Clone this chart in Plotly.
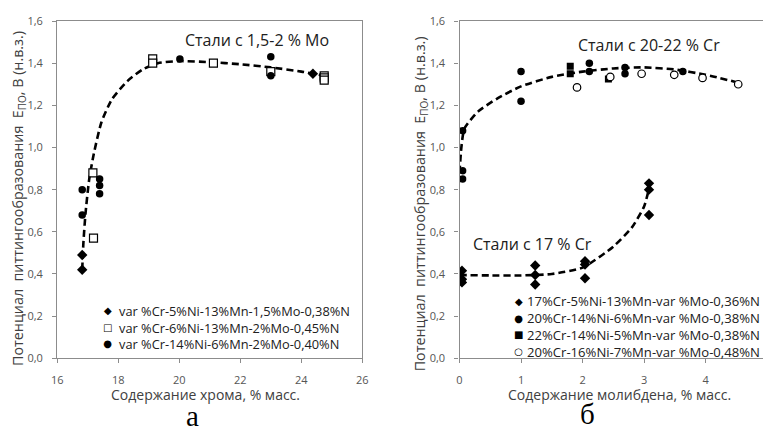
import plotly.graph_objects as go

# ---- Panel (a): pitting potential vs. chromium content, steels with 1.5-2 % Mo ----
cr_s1_x = [16.82, 16.82, 24.38]
cr_s1_y = [0.42, 0.49, 1.35]
cr_s2_x = [17.17, 17.19, 19.13, 19.13, 21.12, 23.0, 24.75, 24.75, 24.75]
cr_s2_y = [0.88, 0.57, 1.42, 1.40, 1.40, 1.36, 1.34, 1.33, 1.32]
cr_s3_x = [16.82, 16.82, 17.39, 17.39, 17.39, 20.02, 23.0, 23.0]
cr_s3_y = [0.80, 0.68, 0.85, 0.82, 0.78, 1.42, 1.43, 1.34]
cr_trend_x = [16.82, 16.86, 16.93, 17.05, 17.2, 17.45, 17.8, 18.3, 18.8, 19.3, 20.0, 21.0, 22.0, 23.0, 24.0, 24.75]
cr_trend_y = [0.42, 0.55, 0.69, 0.85, 0.97, 1.12, 1.23, 1.315, 1.37, 1.40, 1.41, 1.405, 1.395, 1.38, 1.36, 1.34]

# ---- Panel (б): pitting potential vs. molybdenum content ----
mo_s1_x = [0.04, 0.04, 0.04, 1.23, 1.23, 1.23, 2.04, 2.04, 2.04, 3.08, 3.08, 3.08]
mo_s1_y = [0.415, 0.375, 0.36, 0.44, 0.395, 0.35, 0.46, 0.445, 0.38, 0.83, 0.80, 0.68]
mo_s2_x = [0.05, 0.05, 0.05, 1.0, 1.0, 2.11, 2.11, 2.69, 2.69, 3.63]
mo_s2_y = [0.89, 0.85, 1.08, 1.36, 1.22, 1.40, 1.36, 1.38, 1.35, 1.36]
mo_s3_x = [1.80, 1.80, 2.42]
mo_s3_y = [1.385, 1.35, 1.325]
mo_s4_x = [1.91, 2.45, 2.96, 3.49, 3.95, 4.53]
mo_s4_y = [1.285, 1.335, 1.35, 1.345, 1.33, 1.30]
mo_trend17_x = [0.0, 0.5, 1.0, 1.5, 2.0, 2.5, 2.8, 3.0, 3.1]
mo_trend17_y = [0.395, 0.393, 0.393, 0.40, 0.43, 0.53, 0.62, 0.72, 0.83]
mo_trend20_x = [0.0, 0.03, 0.08, 0.3, 0.6, 1.0, 1.5, 2.0, 2.5, 3.0, 3.5, 4.0, 4.5]
mo_trend20_y = [0.88, 1.0, 1.09, 1.17, 1.23, 1.29, 1.335, 1.36, 1.375, 1.38, 1.37, 1.345, 1.31]

legend_a = ["var %Cr-5%Ni-13%Mn-1,5%Mo-0,38%N",
            "var %Cr-6%Ni-13%Mn-2%Mo-0,45%N",
            "var %Cr-14%Ni-6%Mn-2%Mo-0,40%N"]
legend_b = ["17%Cr-5%Ni-13%Mn-var %Mo-0,36%N",
            "20%Cr-14%Ni-6%Mn-var %Mo-0,38%N",
            "22%Cr-14%Ni-5%Mn-var %Mo-0,38%N",
            "20%Cr-16%Ni-7%Mn-var %Mo-0,48%N"]
# legend key glyphs, one per series
glyphs_a = ["◆", "□", "●"]
glyphs_b = ["◆", "●", "■", "○"]

FONT = "Open Sans"
AX_COLOR = "#8c8c8c"
TXT_COLOR = "#404040"

fig = go.Figure()

dash_line = dict(color="black", width=2.6, dash="7px,4px", shape="spline", smoothing=0.6)

# trend lines first so markers sit on top
fig.add_trace(go.Scatter(x=cr_trend_x, y=cr_trend_y, mode="lines", line=dash_line,
                         xaxis="x", yaxis="y", hoverinfo="skip"))
fig.add_trace(go.Scatter(x=mo_trend17_x, y=mo_trend17_y, mode="lines", line=dash_line,
                         xaxis="x2", yaxis="y2", hoverinfo="skip"))
fig.add_trace(go.Scatter(x=mo_trend20_x, y=mo_trend20_y, mode="lines", line=dash_line,
                         xaxis="x2", yaxis="y2", hoverinfo="skip"))

# panel (a) markers
fig.add_trace(go.Scatter(x=cr_s1_x, y=cr_s1_y, mode="markers", name=legend_a[0],
                         marker=dict(symbol="diamond", size=8, color="black"),
                         xaxis="x", yaxis="y"))
fig.add_trace(go.Scatter(x=cr_s2_x, y=cr_s2_y, mode="markers", name=legend_a[1],
                         marker=dict(symbol="square", size=8, color="white",
                                     line=dict(color="black", width=1.2)),
                         xaxis="x", yaxis="y"))
fig.add_trace(go.Scatter(x=cr_s3_x, y=cr_s3_y, mode="markers", name=legend_a[2],
                         marker=dict(symbol="circle", size=7.5, color="black"),
                         xaxis="x", yaxis="y"))

# panel (б) markers
fig.add_trace(go.Scatter(x=mo_s1_x, y=mo_s1_y, mode="markers", name=legend_b[0],
                         marker=dict(symbol="diamond", size=8, color="black"),
                         xaxis="x2", yaxis="y2"))
fig.add_trace(go.Scatter(x=mo_s2_x, y=mo_s2_y, mode="markers", name=legend_b[1],
                         marker=dict(symbol="circle", size=7.5, color="black"),
                         xaxis="x2", yaxis="y2"))
fig.add_trace(go.Scatter(x=mo_s3_x, y=mo_s3_y, mode="markers", name=legend_b[2],
                         marker=dict(symbol="square", size=7, color="black"),
                         xaxis="x2", yaxis="y2"))
fig.add_trace(go.Scatter(x=mo_s4_x, y=mo_s4_y, mode="markers", name=legend_b[3],
                         marker=dict(symbol="circle", size=7.5, color="white",
                                     line=dict(color="black", width=1.2)),
                         xaxis="x2", yaxis="y2"))

W, H = 769, 428
def px_x(p):
    return p / W
def px_y(p):
    return 1 - p / H

yticks = [0.0, 0.2, 0.4, 0.6, 0.8, 1.0, 1.2, 1.4, 1.6]
ytext = [f"{v:.1f}".replace(".", ",") for v in yticks]

axis_common = dict(showgrid=False, zeroline=False, linecolor=AX_COLOR, linewidth=1.3,
                   ticks="outside", ticklen=4, tickcolor=AX_COLOR,
                   tickfont=dict(family=FONT, size=11, color="#555555"))

ydom = [px_y(363), px_y(13.5)]

fig.update_layout(
    width=W, height=H,
    margin=dict(l=0, r=0, t=0, b=0),
    paper_bgcolor="white", plot_bgcolor="white",
    showlegend=False,
    font=dict(family=FONT, color=TXT_COLOR),
    xaxis=dict(domain=[px_x(52), px_x(362)], range=[16, 26], tickvals=[16, 18, 20, 22, 24, 26],
               mirror=True, anchor="y", ticklabelstandoff=7, **axis_common),
    yaxis=dict(domain=ydom, range=[0, 1.6], tickvals=yticks, ticktext=ytext,
               mirror=True, anchor="x", ticklabelstandoff=7, **axis_common),
    xaxis2=dict(domain=[px_x(460.7), 1.0], range=[0, (769 - 460.7) / 62.5], tickvals=[0, 1, 2, 3, 4],
                mirror=True, anchor="y2", ticklabelstandoff=7, **axis_common),
    yaxis2=dict(domain=ydom, range=[0, 1.6], tickvals=yticks, ticktext=ytext,
                anchor="x2", ticklabelstandoff=7, **axis_common),
)

ytitle = "Потенциал\u00a0\u00a0питтингообразования\u00a0\u00a0E<sub>ПО</sub>, В (н.в.з.)"
annotations = [
    dict(text=ytitle, x=px_x(12), y=px_y(197), textangle=-90, font=dict(size=14.3)),
    dict(text=ytitle, x=px_x(421), y=px_y(203), textangle=-90, font=dict(size=14.3)),
    dict(text="Содержание хрома, % масс.", x=px_x(203), y=px_y(400.5), font=dict(size=14)),
    dict(text="Содержание молибдена, % масс.", x=px_x(623), y=px_y(400.5), font=dict(size=14)),
    dict(text="Стали с 1,5-2 % Mo", x=px_x(180), y=px_y(33), xanchor="left",
         font=dict(size=16, color="#202020")),
    dict(text="Стали с 20-22 % Cr", x=px_x(579), y=px_y(38), xanchor="left",
         font=dict(size=16, color="#202020")),
    dict(text="Стали с 17 % Cr", x=px_x(472), y=px_y(245), xanchor="left",
         font=dict(size=16, color="#202020")),
    # panel letters at the bottom edge of the figure
    dict(text="а", x=px_x(189), y=px_y(423), font=dict(family="Liberation Serif", size=29, color="black")),
    dict(text="б", x=px_x(591), y=px_y(421), font=dict(family="Liberation Serif", size=29, color="black")),
]

# legend blocks: a column of key glyphs and a column of labels
def key_column(glyphs):
    return "<br>".join(f"<span style='font-size:10px'>{g}</span>" for g in glyphs)

LEG_FS = 12.8  # line pitch 1.3 * 12.8 ≈ 16.6 px
annotations += [
    dict(text=key_column(glyphs_a), x=px_x(103), y=px_y(331), align="center",
         font=dict(family="DejaVu Sans", size=LEG_FS, color="black")),
    dict(text="<br>".join(legend_a), x=px_x(113), y=px_y(331), xanchor="left", align="left",
         font=dict(size=LEG_FS, color="#202020")),
    dict(text=key_column(glyphs_b), x=px_x(521), y=px_y(329.7), align="center",
         font=dict(family="DejaVu Sans", size=LEG_FS, color="black")),
    dict(text="<br>".join(legend_b), x=px_x(527), y=px_y(329.7), xanchor="left", align="left",
         font=dict(size=13.1, color="#202020")),
]

for a in annotations:
    a.setdefault("xanchor", "center")
    a.setdefault("yanchor", "middle")
    a.update(xref="paper", yref="paper", showarrow=False)
fig.update_layout(annotations=annotations)

fig.write_html("out.html")
